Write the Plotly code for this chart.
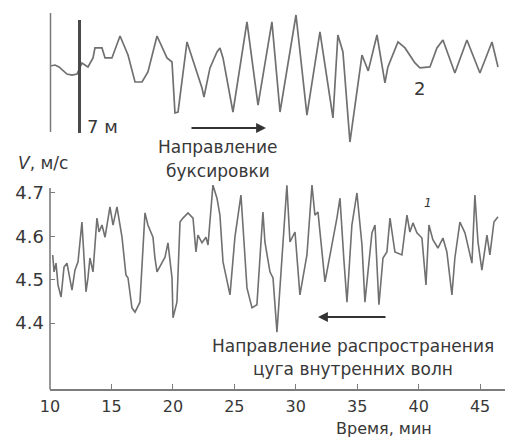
import plotly.graph_objects as go

W, H = 509, 438

# ---- data: upper trace (2), displacement, m ----
t_up = [10.00, 10.41, 10.73, 11.06, 11.38, 11.79, 12.20, 12.60, 13.09, 13.50, 13.66, 14.23, 14.48,
        15.04, 15.70, 16.35, 16.92, 17.49, 17.97, 18.71, 19.52, 19.93, 20.17, 20.42, 21.15, 22.37,
        22.53, 23.02, 23.59, 23.83, 24.08, 24.89, 26.03, 26.93, 28.06, 28.72, 30.02, 30.91, 31.97,
        33.03, 33.43, 33.84, 34.41, 35.39, 35.90, 36.61, 37.26, 37.50, 38.32, 38.89, 39.70, 40.11,
        40.92, 41.49, 41.98, 42.95, 43.93, 44.99, 45.97, 46.46]
z_up = [0.00, 0.06, -0.06, -0.31, -0.50, -0.56, -0.50, 0.19, -0.06, 0.50, 1.12, 1.12, 0.50,
        0.50, 1.86, 0.68, -0.99, -0.99, -0.37, 1.86, 0.50, 0.25, -2.91, -2.85, 1.49, -1.36,
        -1.92, -0.12, 0.87, 1.12, 0.50, -2.85, 2.73, -2.42, 2.73, -2.85, 3.16, -3.04, 2.11,
        -3.22, 1.92, 0.87, -4.71, 0.68, -0.30, 1.92, -1.05, -0.06, 1.49, 1.12, 0.19, -0.12,
        -0.06, 1.12, 1.61, -0.43, 1.61, -0.43, 1.49, -0.06]

# ---- data: lower trace (1), speed V, m/s ----
t_low = [10.22, 10.33, 10.49, 10.65, 10.90, 11.14, 11.38, 11.55, 11.79, 12.03, 12.28, 12.60, 12.69,
         12.93, 13.09, 13.25, 13.50, 13.82, 13.99, 14.23, 14.48, 14.72, 14.88, 15.13, 15.45, 15.86,
         16.18, 16.35, 16.67, 16.92, 17.32, 17.73, 17.97, 18.38, 18.54, 18.71, 18.87, 19.11, 19.36,
         19.60, 19.93, 20.01, 20.33, 20.58, 20.82, 21.23, 21.64, 21.88, 22.04, 22.37, 22.69, 22.86,
         23.26, 23.59, 23.83, 24.08, 24.65, 25.05, 25.54, 25.70, 26.03, 26.44, 26.84, 27.33, 27.49,
         27.90, 28.15, 28.47, 28.63, 28.96, 29.28, 29.53, 29.94, 30.34, 30.91, 31.32, 31.56, 31.81,
         32.38, 33.35, 33.60, 33.92, 34.17, 34.57, 34.98, 35.39, 35.63, 36.20, 36.45, 36.77, 37.10,
         37.42, 37.67, 38.07, 38.64, 39.05, 39.29, 39.54, 39.86, 40.27, 40.60, 40.84, 41.16, 41.57,
         41.98, 42.30, 42.71, 42.95, 43.36, 43.77, 44.34, 44.58, 44.83, 45.15, 45.56, 45.80, 46.13,
         46.46]
v_low = [4.557, 4.518, 4.538, 4.488, 4.460, 4.529, 4.538, 4.511, 4.476, 4.522, 4.541, 4.633, 4.587,
         4.472, 4.504, 4.550, 4.518, 4.642, 4.610, 4.626, 4.598, 4.638, 4.668, 4.626, 4.668, 4.598,
         4.511, 4.504, 4.435, 4.425, 4.448, 4.654, 4.626, 4.598, 4.550, 4.518, 4.527, 4.541, 4.552,
         4.585, 4.504, 4.412, 4.448, 4.633, 4.642, 4.654, 4.642, 4.564, 4.603, 4.585, 4.598, 4.580,
         4.718, 4.688, 4.649, 4.541, 4.465, 4.598, 4.695, 4.626, 4.481, 4.435, 4.442, 4.656, 4.587,
         4.518, 4.504, 4.379, 4.448, 4.587, 4.718, 4.587, 4.610, 4.465, 4.557, 4.718, 4.649, 4.656,
         4.495, 4.642, 4.688, 4.545, 4.448, 4.626, 4.700, 4.580, 4.448, 4.608, 4.626, 4.442, 4.550,
         4.564, 4.642, 4.564, 4.557, 4.649, 4.610, 4.631, 4.608, 4.596, 4.488, 4.626, 4.592, 4.573,
         4.596, 4.564, 4.465, 4.550, 4.633, 4.608, 4.538, 4.695, 4.587, 4.522, 4.603, 4.557, 4.633,
         4.645]

x_ticks = [10, 15, 20, 25, 30, 35, 40, 45]
y_ticks = [4.4, 4.5, 4.6, 4.7]

LINE = "#707070"
AX = "#7c7c7c"
TXT = "#383838"
FONT = "DejaVu Sans, Liberation Sans, Arial, sans-serif"


def px(x):
    return x / W


def py(y):
    return 1 - y / H


fig = go.Figure()
fig.add_trace(go.Scatter(x=t_low, y=v_low, mode="lines", yaxis="y",
                         line=dict(color=LINE, width=1.6), showlegend=False))
fig.add_trace(go.Scatter(x=t_up, y=z_up, mode="lines", yaxis="y2",
                         line=dict(color=LINE, width=1.7), showlegend=False))

fig.update_layout(
    width=W, height=H, margin=dict(l=0, r=0, t=0, b=0, autoexpand=False),
    paper_bgcolor="white", plot_bgcolor="white",
    font=dict(family=FONT, color=TXT, size=17),
    xaxis=dict(domain=[px(50), px(505)], range=[10, 47.03], tickvals=x_ticks,
               ticks="inside", ticklen=5, tickcolor=AX, tickwidth=1.2, showline=True,
               linecolor=AX, linewidth=1.6, showgrid=False, zeroline=False,
               automargin=False, ticklabelstandoff=2, tickfont=dict(size=16, color=TXT)),
    yaxis=dict(domain=[1 - 389 / H, 1 - 175 / H], range=[4.2477, 4.7415], tickvals=y_ticks,
               tickformat=".1f", ticks="inside", ticklen=5, tickcolor=AX, tickwidth=1.2,
               showline=False, showgrid=False, zeroline=False, anchor="x", automargin=False,
               ticklabelstandoff=5, tickfont=dict(size=18, color=TXT)),
    yaxis2=dict(domain=[1 - 150 / H, 1], range=[-5.204, 4.089], visible=False, anchor="x",
                automargin=False),
)

# lower y-axis line
fig.add_shape(type="line", xref="paper", yref="paper", x0=px(50), x1=px(50), y0=py(389.5), y1=py(188),
              line=dict(color=AX, width=1.6))
# upper left vertical line
fig.add_shape(type="line", xref="paper", yref="paper", x0=px(50.5), x1=px(50.5), y0=py(132), y1=py(13),
              line=dict(color="#7a7a7a", width=1.5))
# 7 m scale bar
fig.add_shape(type="line", xref="paper", yref="paper", x0=px(79.5), x1=px(79.5), y0=py(133), y1=py(20),
              line=dict(color="#4a4a4a", width=3))

ann = [
    ("7 м", 102, 126, 18, "middle"),
    ("Направление", 218, 147, 17, "middle"),
    ("буксировки", 218, 171, 17, "middle"),
    ("<i>V</i>, м/с", 43, 163, 17, "middle"),
    ("2", 419, 88, 18, "middle"),
    ("<i>1</i>", 428, 203, 12, "middle"),
    ("Направление распространения", 353, 346, 17, "middle"),
    ("цуга внутренних волн", 353, 369, 17, "middle"),
    ("Время, мин", 384, 440, 16, "bottom"),
]
for text, x, y, s, va in ann:
    fig.add_annotation(text=text, x=px(x), y=py(y), xref="paper", yref="paper",
                       showarrow=False, xanchor="center", yanchor=va,
                       font=dict(size=s, color=TXT, family=FONT))

# arrows (tail offset in pixels)
fig.add_annotation(x=px(266), y=py(128), ax=-76, ay=0, xref="paper", yref="paper",
                   axref="pixel", ayref="pixel", text="", showarrow=True, arrowhead=2,
                   arrowsize=1.1, arrowwidth=1.8, arrowcolor="#333333")
fig.add_annotation(x=px(318), y=py(317), ax=69, ay=0, xref="paper", yref="paper",
                   axref="pixel", ayref="pixel", text="", showarrow=True, arrowhead=2,
                   arrowsize=1.1, arrowwidth=1.8, arrowcolor="#333333")

fig.write_html("out.html")
